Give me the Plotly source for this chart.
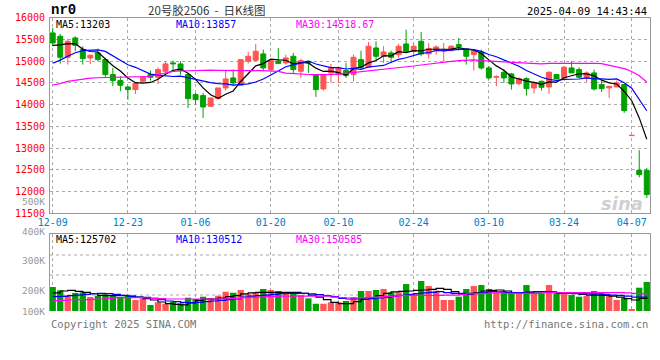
import plotly.graph_objects as go

# ---------------- data ----------------
dates = [
    "2024-12-09", "2024-12-10", "2024-12-11", "2024-12-12", "2024-12-13",
    "2024-12-16", "2024-12-17", "2024-12-18", "2024-12-19", "2024-12-20",
    "2024-12-23", "2024-12-24", "2024-12-25", "2024-12-26", "2024-12-27",
    "2024-12-30", "2024-12-31", "2025-01-02", "2025-01-03", "2025-01-06",
    "2025-01-07", "2025-01-08", "2025-01-09", "2025-01-10", "2025-01-13",
    "2025-01-14", "2025-01-15", "2025-01-16", "2025-01-17", "2025-01-20",
    "2025-01-21", "2025-01-22", "2025-01-23", "2025-01-24", "2025-01-27",
    "2025-02-05", "2025-02-06", "2025-02-07", "2025-02-10", "2025-02-11",
    "2025-02-12", "2025-02-13", "2025-02-14", "2025-02-17", "2025-02-18",
    "2025-02-19", "2025-02-20", "2025-02-21", "2025-02-24", "2025-02-25",
    "2025-02-26", "2025-02-27", "2025-02-28", "2025-03-03", "2025-03-04",
    "2025-03-05", "2025-03-06", "2025-03-07", "2025-03-10", "2025-03-11",
    "2025-03-12", "2025-03-13", "2025-03-14", "2025-03-17", "2025-03-18",
    "2025-03-19", "2025-03-20", "2025-03-21", "2025-03-24", "2025-03-25",
    "2025-03-26", "2025-03-27", "2025-03-28", "2025-03-31", "2025-04-01",
    "2025-04-02", "2025-04-03", "2025-04-07", "2025-04-08", "2025-04-09",
]

opens = [15645, 15569, 15086, 15530, 15262, 15070, 15186, 15032, 14688, 14550,
         14404, 14343, 14534, 14688, 14626, 14764, 14956, 14933, 14688, 14228,
         14205, 13960, 14136, 14381, 14611, 14442, 14994, 15017, 15163, 14803,
         14994, 14956, 15109, 14764, 14994, 14688, 14358, 14726, 14688, 14780,
         14688, 15032, 14856, 15300, 15109, 15186, 15147, 15392, 15224, 15454,
         15163, 15239, 15239, 15239, 15377, 15277, 15147, 15208, 14841, 14626,
         14741, 14703, 14481, 14596, 14381, 14534, 14404, 14688, 14611, 14841,
         14803, 14611, 14726, 14458, 14381, 14404, 14458, 13285, 12489, 12489]
highs = [15760, 15622, 15507, 15568, 15339, 15147, 15285, 15071, 14841, 14649,
         14420, 14519, 14649, 14780, 14856, 14994, 15010, 14994, 14726, 14266,
         14266, 14151, 14381, 14780, 14803, 15032, 15208, 15392, 15262, 15032,
         15300, 15147, 15186, 15055, 14994, 14688, 14688, 14933, 14841, 14956,
         15147, 15239, 15438, 15454, 15339, 15239, 15392, 15722, 15415, 15668,
         15415, 15362, 15415, 15362, 15530, 15277, 15239, 15262, 14880, 14672,
         14803, 14726, 14626, 14626, 14519, 14550, 14764, 14703, 14880, 14994,
         14856, 14764, 14803, 14550, 14419, 14550, 14458, 13293, 12949, 12543]
lows = [15339, 14940, 14917, 15224, 14917, 14933, 14994, 14634, 14420, 14305,
        14113, 14243, 14496, 14550, 14473, 14726, 14803, 14688, 13922, 14000,
        13692, 13945, 14113, 14320, 14420, 14442, 14940, 14994, 14764, 14764,
        14940, 14917, 14726, 14611, 14726, 14174, 14320, 14496, 14496, 14611,
        14534, 14803, 14841, 15009, 14956, 14956, 15071, 15186, 15147, 15109,
        15055, 15147, 14994, 15224, 15239, 14917, 14780, 14803, 14573, 14420,
        14496, 14343, 14442, 14205, 14251, 14320, 14251, 14588, 14611, 14726,
        14596, 14511, 14320, 14289, 14151, 14404, 13807, 13285, 12328, 11853]
closes = [15415, 15086, 15454, 15362, 15055, 15132, 15032, 14688, 14550, 14443,
          14343, 14488, 14634, 14626, 14803, 14933, 14933, 14780, 14136, 14113,
          13945, 14151, 14381, 14588, 14496, 15032, 15109, 15224, 14841, 15009,
          14940, 15071, 14803, 15009, 14956, 14343, 14688, 14841, 14841, 14665,
          15086, 14856, 15339, 15109, 15208, 15086, 15339, 15224, 15339, 15163,
          15285, 15323, 15255, 15339, 15331, 15109, 15239, 14841, 14611, 14642,
          14611, 14473, 14596, 14366, 14496, 14396, 14741, 14588, 14856, 14726,
          14626, 14726, 14358, 14366, 14419, 14496, 13860, 13293, 12390, 11930]

ma5 = [15360, 15370, 15400, 15395, 15274, 15218, 15207, 15054, 14891, 14769,
       14611, 14502, 14492, 14507, 14579, 14697, 14786, 14815, 14717, 14579,
       14381, 14225, 14145, 14236, 14312, 14530, 14721, 14890, 14940, 15043,
       15025, 15017, 14933, 14966, 14956, 14836, 14760, 14767, 14734, 14676,
       14824, 14858, 14957, 15011, 15120, 15120, 15216, 15193, 15239, 15230,
       15270, 15267, 15273, 15273, 15307, 15271, 15255, 15172, 15026, 14888,
       14789, 14636, 14587, 14538, 14508, 14465, 14519, 14517, 14615, 14661,
       14707, 14704, 14658, 14560, 14499, 14473, 14300, 14087, 13692, 13203]
ma10 = [14950, 15020, 15110, 15190, 15240, 15250, 15254, 15220, 15120, 15022,
        14915, 14855, 14773, 14699, 14674, 14654, 14644, 14653, 14612, 14579,
        14539, 14505, 14480, 14476, 14446, 14456, 14473, 14518, 14588, 14678,
        14777, 14869, 14911, 14953, 14999, 14931, 14888, 14850, 14850, 14816,
        14830, 14809, 14862, 14872, 14898, 14972, 15037, 15075, 15125, 15175,
        15195, 15242, 15233, 15256, 15268, 15271, 15261, 15222, 15150, 15098,
        15030, 14945, 14879, 14782, 14698, 14627, 14577, 14552, 14577, 14585,
        14586, 14612, 14588, 14588, 14580, 14590, 14502, 14373, 14126, 13857]
ma30 = [14449, 14480, 14530, 14560, 14590, 14605, 14615, 14617, 14620, 14622,
        14625, 14630, 14640, 14650, 14690, 14730, 14760, 14770, 14775, 14790,
        14794, 14790, 14785, 14780, 14778, 14778, 14778, 14778, 14778, 14775,
        14760, 14720, 14705, 14695, 14690, 14685, 14680, 14690, 14700, 14718,
        14730, 14755, 14770, 14790, 14800, 14815, 14833, 14860, 14885, 14909,
        14925, 14950, 14970, 14990, 15010, 15024, 15024, 15008, 15000, 14990,
        14980, 14972, 14962, 14945, 14935, 14935, 14945, 14948, 14948, 14948,
        14948, 14948, 14948, 14940, 14905, 14870, 14825, 14760, 14660, 14518.67]

volumes = [218000, 188000, 143000, 164000, 170000, 127000, 139000, 152000, 145000, 121000,
           136000, 100000, 115000, 55000, 79000, 66000, 85000, 70000, 121000, 109000,
           130000, 115000, 139000, 175000, 166000, 191000, 152000, 166000, 200000, 191000,
           182000, 157000, 161000, 145000, 115000, 66000, 66000, 79000, 79000, 91000,
           127000, 182000, 182000, 191000, 200000, 170000, 170000, 245000, 161000, 273000,
           227000, 185000, 100000, 100000, 130000, 200000, 227000, 236000, 200000, 166000,
           182000, 175000, 161000, 236000, 161000, 161000, 236000, 161000, 155000, 145000,
           130000, 136000, 182000, 161000, 145000, 100000, 121000, 18000, 212000, 264000]
vol_ma5 = [164000, 182000, 188000, 179000, 170000, 158000, 142000, 139000, 139000, 139000,
           136000, 127000, 112000, 100000, 82000, 67000, 61000, 55000, 73000, 97000,
           109000, 109000, 118000, 130000, 139000, 155000, 164000, 170000, 170000, 170000,
           170000, 170000, 170000, 161000, 145000, 127000, 103000, 79000, 67000, 67000,
           85000, 106000, 121000, 139000, 161000, 173000, 179000, 182000, 188000, 191000,
           197000, 206000, 197000, 176000, 152000, 152000, 164000, 182000, 188000, 191000,
           182000, 167000, 161000, 164000, 173000, 176000, 170000, 161000, 161000, 158000,
           152000, 145000, 145000, 142000, 136000, 127000, 112000, 100000, 115000, 125702]
vol_ma10 = [130000, 133000, 139000, 145000, 152000, 158000, 161000, 158000, 152000, 142000,
            133000, 127000, 124000, 115000, 103000, 91000, 85000, 79000, 76000, 79000,
            85000, 91000, 97000, 103000, 109000, 127000, 136000, 139000, 145000, 152000,
            158000, 161000, 161000, 161000, 155000, 148000, 139000, 130000, 115000, 109000,
            109000, 109000, 112000, 118000, 124000, 136000, 142000, 148000, 158000, 164000,
            170000, 176000, 167000, 161000, 161000, 161000, 161000, 167000, 176000, 173000,
            167000, 167000, 167000, 173000, 176000, 176000, 173000, 167000, 164000, 161000,
            158000, 155000, 155000, 152000, 145000, 142000, 136000, 127000, 127000, 130512]
vol_ma30 = [94000, 97000, 100000, 103000, 103000, 106000, 109000, 115000, 121000, 121000,
            121000, 121000, 118000, 115000, 112000, 109000, 109000, 109000, 109000, 109000,
            109000, 109000, 109000, 112000, 115000, 121000, 124000, 127000, 130000, 133000,
            136000, 136000, 136000, 136000, 136000, 136000, 136000, 127000, 121000, 118000,
            118000, 121000, 124000, 127000, 133000, 136000, 139000, 142000, 142000, 142000,
            142000, 142000, 145000, 145000, 148000, 155000, 158000, 161000, 164000, 164000,
            161000, 161000, 161000, 161000, 161000, 164000, 167000, 167000, 167000, 167000,
            167000, 167000, 167000, 167000, 167000, 167000, 164000, 161000, 155000, 150585]

price_ticks = [11500, 12000, 12500, 13000, 13500, 14000, 14500, 15000, 15500, 16000]
date_ticks = ["2024-12-09", "2024-12-23", "2025-01-06", "2025-01-20", "2025-02-10",
              "2025-02-24", "2025-03-10", "2025-03-24", "2025-04-07"]
date_tick_labels = ["12-09", "12-23", "01-06", "01-20", "02-10",
                    "02-24", "03-10", "03-24", "04-07"]
vol_tick_labels = ["500K", "400K", "300K", "200K", "100K"]

# ---------------- styling ----------------
W, H = 660, 360
RED = "#FF5555"
GREEN = "#00A000"
GRID = "#AAAAAA"
BORDER = "#999999"
MONO = "DejaVu Sans Mono"


def px(x):
    return x / W


def py(y):
    return 1 - y / H


is_up = [c >= o for o, c in zip(opens, closes)]
candle_colors = [RED if u else GREEN for u in is_up]

fig = go.Figure()

# wicks (high-low), one trace per colour
for want_up, col in [(True, RED), (False, GREEN)]:
    wx, wy = [], []
    for d, h, l, u in zip(dates, highs, lows, is_up):
        if u == want_up:
            wx += [d, d, None]
            wy += [l, h, None]
    fig.add_trace(go.Scatter(x=wx, y=wy, mode="lines", line=dict(color=col, width=1),
                             xaxis="x", yaxis="y", showlegend=False, hoverinfo="skip",
                             connectgaps=False))

# candle bodies
fig.add_trace(go.Bar(
    x=dates,
    y=[abs(c - o) for o, c in zip(opens, closes)],
    base=[min(o, c) for o, c in zip(opens, closes)],
    width=0.66,
    marker=dict(color=candle_colors, line=dict(color=candle_colors, width=1)),
    xaxis="x", yaxis="y", showlegend=False, hoverinfo="skip",
))

for arr, col in [(ma5, "#000000"), (ma10, "#0000FF"), (ma30, "#FF00FF")]:
    fig.add_trace(go.Scatter(x=dates, y=arr, mode="lines",
                             line=dict(color=col, width=1.2),
                             xaxis="x", yaxis="y", showlegend=False, hoverinfo="skip"))

fig.add_trace(go.Bar(x=dates, y=volumes, marker=dict(color=candle_colors, line=dict(width=0)),
                     width=0.84, xaxis="x2", yaxis="y2", showlegend=False, hoverinfo="skip"))
for arr, col in [(vol_ma5, "#000000"), (vol_ma10, "#0000FF"), (vol_ma30, "#FF00FF")]:
    fig.add_trace(go.Scatter(x=dates, y=arr, mode="lines",
                             line=dict(color=col, width=1.2, shape="hv"),
                             xaxis="x2", yaxis="y2", showlegend=False, hoverinfo="skip"))

xr = [-0.36, 79.43]
xdom = [px(50), px(650)]

fig.update_layout(
    width=W, height=H,
    margin=dict(l=0, r=0, t=0, b=0, autoexpand=False),
    paper_bgcolor="white", plot_bgcolor="white",
    showlegend=False,
    barmode="overlay",
    xaxis=dict(
        domain=xdom, anchor="y", type="category", range=xr, automargin=False,
        categoryorder="array", categoryarray=dates,
        tickmode="array", tickvals=date_ticks, ticktext=date_tick_labels,
        tickfont=dict(family=MONO, size=10, color="#0080C8"),
        showgrid=True, gridcolor=GRID, griddash="dot", gridwidth=1,
        showline=True, linecolor=BORDER, linewidth=1, mirror=True,
        ticks="", zeroline=False,
    ),
    yaxis=dict(
        domain=[py(213.3), py(17.5)], anchor="x", range=[11500, 16000], automargin=False,
        tickmode="array", tickvals=price_ticks,
        ticktext=[str(v) for v in price_ticks],
        tickfont=dict(family=MONO, size=10, color="#FF0000"),
        showgrid=True, gridcolor=GRID, griddash="dot", gridwidth=1,
        showline=True, linecolor=BORDER, linewidth=1, mirror=True,
        ticks="", zeroline=False, ticklabelstandoff=2,
    ),
    xaxis2=dict(
        domain=xdom, anchor="y2", matches="x", type="category", automargin=False,
        showticklabels=False, side="top",
        showgrid=True, gridcolor=GRID, griddash="dot", gridwidth=1,
        showline=True, linecolor=BORDER, linewidth=1, mirror=False,
        tickmode="array", tickvals=date_ticks, ticks="", zeroline=False,
    ),
    yaxis2=dict(
        domain=[py(311), py(234)], anchor="x2", range=[0, 700000], automargin=False,
        showticklabels=False, showgrid=False,
        showline=True, linecolor=BORDER, linewidth=1, mirror=True,
        ticks="", zeroline=False,
    ),
)

# dotted horizontal grid inside volume panel
for gy in [255, 275, 295]:
    fig.add_shape(type="line", xref="paper", yref="paper",
                  x0=px(50), x1=px(650), y0=py(gy), y1=py(gy),
                  line=dict(color=GRID, width=1, dash="dot"), layer="below")

ann = []


def add_text(x, y, text, color="#000", size=10, family=MONO, xanchor="left", bold=False, italic=False):
    if bold:
        text = "<b>" + text + "</b>"
    if italic:
        text = "<i>" + text + "</i>"
    ann.append(dict(x=px(x), y=py(y), xref="paper", yref="paper", text=text,
                    showarrow=False, xanchor=xanchor, yanchor="middle",
                    font=dict(family=family, size=size, color=color)))


add_text(49, 10, "nr0", size=14, family="Liberation Mono", bold=True)
add_text(207, 10, "20号胶2506\u00a0\u00a0-\u00a0\u00a0日K线图", color="#333333", size=11.5,
         family="Noto Sans CJK SC", xanchor="center")
add_text(649, 11, "2025-04-09 14:43:44", size=10.5, xanchor="right")

add_text(54, 24.5, f"MA5:{ma5[-1]}", color="#000000")
add_text(174, 24.5, f"MA10:{ma10[-1]}", color="#0000FF")
add_text(294, 24.5, f"MA30:{ma30[-1]}", color="#FF00FF")

add_text(54, 239.5, f"MA5:{vol_ma5[-1]}", color="#000000")
add_text(174, 239.5, f"MA10:{vol_ma10[-1]}", color="#0000FF")
add_text(294, 239.5, f"MA30:{vol_ma30[-1]}", color="#FF00FF")

for lbl, yy in zip(vol_tick_labels, [201, 231, 260, 290.7, 311]):
    add_text(47, yy, lbl, color="#999999", xanchor="right", size=9.5)

add_text(49, 324, "Copyright 2025 SINA.COM", color="#777777", size=10.5)
add_text(650, 324, "http://finance.sina.com.cn", color="#777777", size=10.5, xanchor="right")

add_text(622, 203, "sina", color="#D0D0D0", size=18, family="DejaVu Sans", xanchor="center",
         bold=True, italic=True)

fig.update_layout(annotations=ann)

fig.write_html("out.html",
               config={"displayModeBar": False, "staticPlot": True},
               post_script="document.body.style.margin='0';document.body.style.padding='0';")
